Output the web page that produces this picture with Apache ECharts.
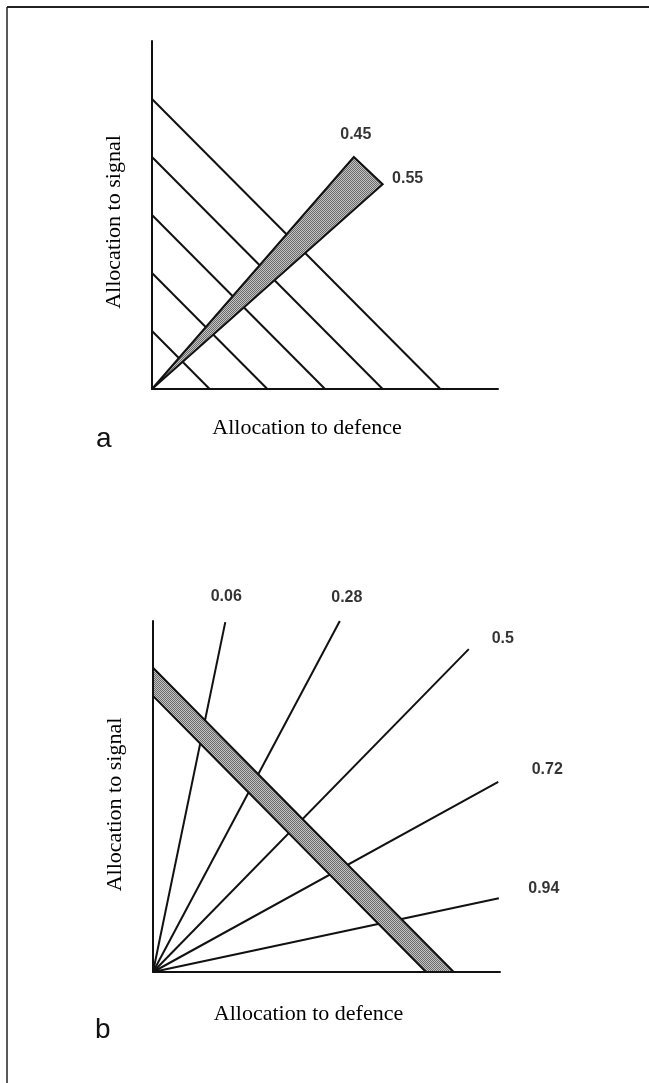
<!DOCTYPE html>
<html>
<head>
<meta charset="utf-8">
<script src="https://cdn.jsdelivr.net/npm/echarts@6/dist/echarts.min.js"></script>
<style>
  html, body { margin: 0; padding: 0; background: #fff; }
  #chart { width: 649px; height: 1083px; }
</style>
</head>
<body>
<div id="chart"></div>
<script>
// panel a: budget lines  defence + signal = k
const isoLevels = [1, 2, 3, 4, 5];
// wedge tips (defence, signal)
const wedgeTips = [[3.5, 4.0], [4.0, 3.53]];
const wedgeLabels = ['0.45', '0.55'];

// panel b: rays from the origin, end points (defence, signal)
const rayEnds = [[1.25, 5.98], [3.23, 6.0], [5.46, 5.52], [5.97, 3.25], [5.98, 1.26]];
const rayLabels = ['0.06', '0.28', '0.5', '0.72', '0.94'];
// band between defence + signal = inner and = outer
const bandInner = 4.72;
const bandOuter = 5.2;

const axisMax = 6;

// label offsets in px (style only)
const wedgeLabelOffset = [[2, -22], [25, -6]];
const rayLabelOffset = [[1, -26], [7, -23], [34, -10], [49, -12], [45, -10]];

const chart = echarts.init(document.getElementById('chart'));

// grey dotted fill, like the halftone in the print
function dotPattern() {
  const c = document.createElement('canvas');
  c.width = 2; c.height = 2;
  const ctx = c.getContext('2d');
  ctx.fillStyle = '#c4c4c4';
  ctx.fillRect(0, 0, 2, 2);
  ctx.fillStyle = '#6a6a6a';
  ctx.fillRect(0, 0, 1, 1);
  ctx.fillRect(1, 1, 1, 1);
  return c;
}
const fillPattern = { image: dotPattern(), repeat: 'repeat' };

function axis(idx, name, gap, pad) {
  return {
    type: 'value', gridIndex: idx, min: 0, max: axisMax,
    name: name, nameLocation: 'middle', nameGap: gap,
    nameTextStyle: { fontFamily: 'Liberation Serif', fontSize: 22, color: '#000', padding: pad },
    axisLine: { show: true, onZero: false, lineStyle: { color: '#111', width: 2 } },
    axisTick: { show: false }, axisLabel: { show: false }, splitLine: { show: false }
  };
}

function polygon(idx, pts, z) {
  return {
    type: 'custom', xAxisIndex: idx, yAxisIndex: idx, z: z, silent: true,
    data: pts,
    renderItem: function (params, api) {
      if (params.dataIndex !== 0) return;
      return {
        type: 'polygon',
        shape: { points: pts.map(p => api.coord(p)) },
        style: { fill: fillPattern, stroke: '#111', lineWidth: 2 }
      };
    }
  };
}

function segment(idx, from, to, width) {
  return {
    type: 'line', xAxisIndex: idx, yAxisIndex: idx, z: 2, silent: true,
    data: [from, to], showSymbol: false,
    lineStyle: { color: '#111', width: width }
  };
}

function labels(idx, pts, texts, offsets) {
  return {
    type: 'scatter', xAxisIndex: idx, yAxisIndex: idx, z: 5, silent: true,
    symbolSize: 1, itemStyle: { color: 'rgba(0,0,0,0)' },
    data: pts.map((p, i) => ({ value: p, name: texts[i], label: { offset: offsets[i] } })),
    label: {
      show: true, position: 'inside', formatter: '{b}',
      fontFamily: 'Liberation Sans', fontWeight: 'bold', fontSize: 16, color: '#000'
    }
  };
}

const series = [];
isoLevels.forEach(k => series.push(segment(0, [0, k], [k, 0], 2)));
series.push(polygon(0, [[0, 0], wedgeTips[0], wedgeTips[1]], 3));
series.push(labels(0, wedgeTips, wedgeLabels, wedgeLabelOffset));

rayEnds.forEach(p => series.push(segment(1, [0, 0], p, 2)));
series.push(polygon(1, [[0, bandInner], [0, bandOuter], [bandOuter, 0], [bandInner, 0]], 3));
series.push(labels(1, rayEnds, rayLabels, rayLabelOffset));

chart.setOption({
  animation: false,
  grid: [
    { left: 152, top: 41, width: 346, height: 348 },
    { left: 153, top: 621, width: 347, height: 351 }
  ],
  xAxis: [
    axis(0, 'Allocation to defence', 28, [0, 36, 0, 0]),
    axis(1, 'Allocation to defence', 31, [0, 36, 0, 0])
  ],
  yAxis: [
    axis(0, 'Allocation to signal', 27, [0, 14, 0, 0]),
    axis(1, 'Allocation to signal', 27, [0, 16, 0, 0])
  ],
  series: series,
  graphic: [
    { type: 'line', shape: { x1: 7, y1: 7, x2: 649, y2: 7 }, style: { stroke: '#222', lineWidth: 2 } },
    { type: 'line', shape: { x1: 7, y1: 7, x2: 7, y2: 1083 }, style: { stroke: '#222', lineWidth: 1.5 } },
    { type: 'text', left: 96, top: 425, style: { text: 'a', font: '28px "Liberation Sans"', fill: '#111' } },
    { type: 'text', left: 95, top: 1016, style: { text: 'b', font: '28px "Liberation Sans"', fill: '#111' } }
  ]
});
</script>
</body>
</html>
